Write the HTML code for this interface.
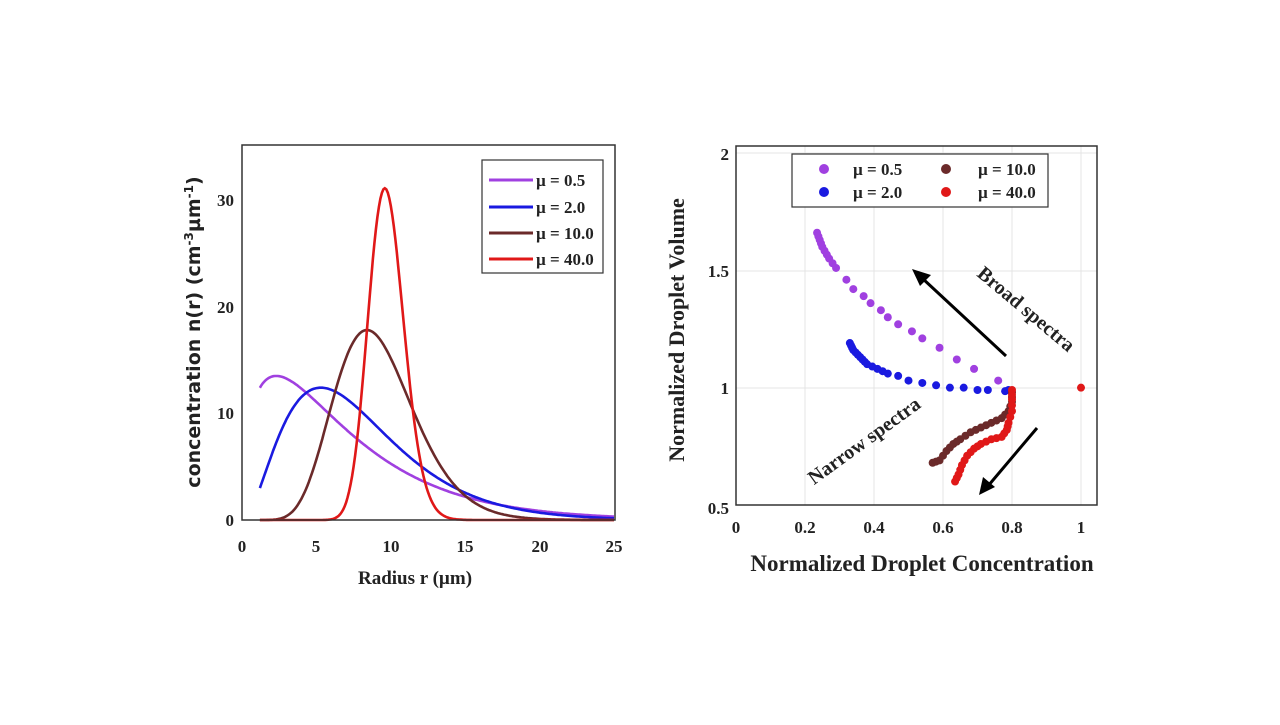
<!DOCTYPE html>
<html><head><meta charset="utf-8"><style>
body{margin:0;background:#fff;width:1280px;height:720px;overflow:hidden}
svg text{font-family:"Liberation Serif",serif;font-weight:bold;fill:#222}
</style></head><body>
<svg id="s" width="1280" height="720" xmlns="http://www.w3.org/2000/svg">
<g id="L"></g>
<rect x="242" y="145" width="373" height="375" fill="none" stroke="#333" stroke-width="1.5"/>
<g font-size="17" text-anchor="middle">
<text x="242" y="552">0</text><text x="316" y="552">5</text><text x="391" y="552">10</text><text x="465" y="552">15</text><text x="540" y="552">20</text><text x="614" y="552">25</text>
</g>
<g font-size="17" text-anchor="end">
<text x="234" y="526">0</text><text x="234" y="419">10</text><text x="234" y="313">20</text><text x="234" y="206">30</text>
</g>
<text x="415" y="584" font-size="19" text-anchor="middle" fill="#444">Radius r (µm)</text>
<text transform="translate(200,332) rotate(-90)" font-size="19" text-anchor="middle" style="font-family:'DejaVu Sans',sans-serif">concentration n(r) (cm<tspan font-size="12" dy="-7">-3</tspan><tspan dy="7">µm</tspan><tspan font-size="12" dy="-7">-1</tspan><tspan dy="7">)</tspan></text>
<rect x="482" y="160" width="121" height="113" fill="#fff" stroke="#333" stroke-width="1.2"/>
<g stroke-width="3"><line x1="489" y1="180" x2="533" y2="180" stroke="#a040e0"/><line x1="489" y1="207" x2="533" y2="207" stroke="#1a1ae0"/><line x1="489" y1="233" x2="533" y2="233" stroke="#6b2a2a"/><line x1="489" y1="259" x2="533" y2="259" stroke="#e01818"/></g>
<g font-size="17"><text x="536" y="186">µ = 0.5</text><text x="536" y="213">µ = 2.0</text><text x="536" y="239">µ = 10.0</text><text x="536" y="265">µ = 40.0</text></g>
<g stroke="#e4e4e4" stroke-width="1">
<line x1="805" y1="146" x2="805" y2="505"/><line x1="874" y1="146" x2="874" y2="505"/><line x1="943" y1="146" x2="943" y2="505"/><line x1="1012" y1="146" x2="1012" y2="505"/><line x1="1081" y1="146" x2="1081" y2="505"/>
<line x1="736" y1="388" x2="1097" y2="388"/><line x1="736" y1="271" x2="1097" y2="271"/><line x1="736" y1="153" x2="1097" y2="153"/>
</g>
<g id="R"></g>
<rect x="736" y="146" width="361" height="359" fill="none" stroke="#333" stroke-width="1.5"/>
<g font-size="17" text-anchor="middle">
<text x="736" y="533">0</text><text x="805" y="533">0.2</text><text x="874" y="533">0.4</text><text x="943" y="533">0.6</text><text x="1012" y="533">0.8</text><text x="1081" y="533">1</text>
</g>
<g font-size="17" text-anchor="end">
<text x="729" y="514">0.5</text><text x="729" y="394">1</text><text x="729" y="277">1.5</text><text x="729" y="160">2</text>
</g>
<text x="922" y="571" font-size="23" text-anchor="middle">Normalized Droplet Concentration</text>
<text transform="translate(684,330) rotate(-90)" font-size="22" text-anchor="middle">Normalized Droplet Volume</text>
<rect x="792" y="154" width="256" height="53" fill="#fff" stroke="#333" stroke-width="1.2"/>
<circle cx="824" cy="169" r="5" fill="#a040e0"/><circle cx="824" cy="192" r="5" fill="#1a1ae0"/><circle cx="946" cy="169" r="5" fill="#6b2a2a"/><circle cx="946" cy="192" r="5" fill="#e01818"/>
<g font-size="17"><text x="853" y="175">µ = 0.5</text><text x="853" y="198">µ = 2.0</text><text x="978" y="175">µ = 10.0</text><text x="978" y="198">µ = 40.0</text></g>
<line x1="1006" y1="356" x2="922" y2="278" stroke="#000" stroke-width="3"/>
<path d="M912,269 L931,275 L920,286z" fill="#000"/>
<line x1="1037" y1="428" x2="988" y2="486" stroke="#000" stroke-width="3"/>
<path d="M979,495 L983,477 L995,487z" fill="#000"/>
<text transform="translate(1022,314) rotate(40)" font-size="20" text-anchor="middle">Broad spectra</text>
<text transform="translate(868,446) rotate(-36)" font-size="20" text-anchor="middle">Narrow spectra</text>
</svg>
<script>
var NS="http://www.w3.org/2000/svg";
function px(r){return 242+r*14.88} function py(v){return 520-v*10.67}
var cs=[[0.5,2.3,13.5,"#a040e0"],[2,5.3,12.4,"#1a1ae0"],[10,8.4,17.8,"#6b2a2a"],[65,9.6,31.1,"#e01818"]];
var L=document.getElementById("L");
cs.forEach(function(c){var d="";for(var r=1.2;r<=25.001;r+=0.1){var x=r/c[1];var v=c[2]*Math.pow(x,c[0])*Math.exp(-c[0]*(x-1));d+=(d?"L":"M")+px(r).toFixed(1)+","+py(v).toFixed(1);}
var p=document.createElementNS(NS,"path");p.setAttribute("d",d);p.setAttribute("fill","none");p.setAttribute("stroke",c[3]);p.setAttribute("stroke-width","2.6");L.appendChild(p);});
function X(v){return 736+v*345} function Y(v){return 505-(v-0.5)*234.7}
var R=document.getElementById("R");
function dot(x,y,col){if(isNaN(x)||isNaN(y))return;var c=document.createElementNS(NS,"circle");c.setAttribute("cx",X(x));c.setAttribute("cy",Y(y));c.setAttribute("r",4);c.setAttribute("fill",col);R.appendChild(c);}
function ser(pts,col,sub){for(var i=0;i<pts.length;i++){dot(pts[i][0],pts[i][1],col);if(i<pts.length-1){var n=sub[i>=sub.length?sub.length-1:i];for(var k=1;k<n;k++){var t=k/n;dot(pts[i][0]+(pts[i+1][0]-pts[i][0])*t,pts[i][1]+(pts[i+1][1]-pts[i][1])*t,col);}}}}
ser([[0.235,1.66],[0.25,1.6],[0.27,1.55],[0.29,1.51],[0.32,1.46],[0.34,1.42],[0.37,1.39],[0.39,1.36],[0.42,1.33],[0.44,1.30],[0.47,1.27],[0.51,1.24],[0.54,1.21],[0.59,1.17],[0.64,1.12],[0.69,1.08],[0.76,1.03]],"#a040e0",[4,3,2,1]);
ser([[0.33,1.19],[0.34,1.16],[0.36,1.13],[0.38,1.1],[0.41,1.08],[0.44,1.06],[0.47,1.05],[0.5,1.03],[0.54,1.02],[0.58,1.01],[0.62,1.0],[0.66,1.0],[0.7,0.99],[0.73,0.99],[0.78,0.985],[0.79,0.99]],"#1a1ae0",[3,3,3,2,2,1]);
ser([[0.57,0.68],[0.59,0.69],[0.61,0.73],[0.63,0.76],[0.65,0.78],[0.68,0.81],[0.71,0.83],[0.74,0.85],[0.77,0.87],[0.79,0.9],[0.8,0.94],[0.8,0.98]],"#6b2a2a",[2]);
ser([[0.635,0.6],[0.645,0.63],[0.655,0.67],[0.67,0.71],[0.69,0.74],[0.71,0.76],[0.74,0.78],[0.77,0.79],[0.785,0.82],[0.79,0.85],[0.8,0.9],[0.8,0.95],[0.8,0.99]],"#e01818",[2]);
dot(1,1,"#e01818");
</script>
</body></html>
